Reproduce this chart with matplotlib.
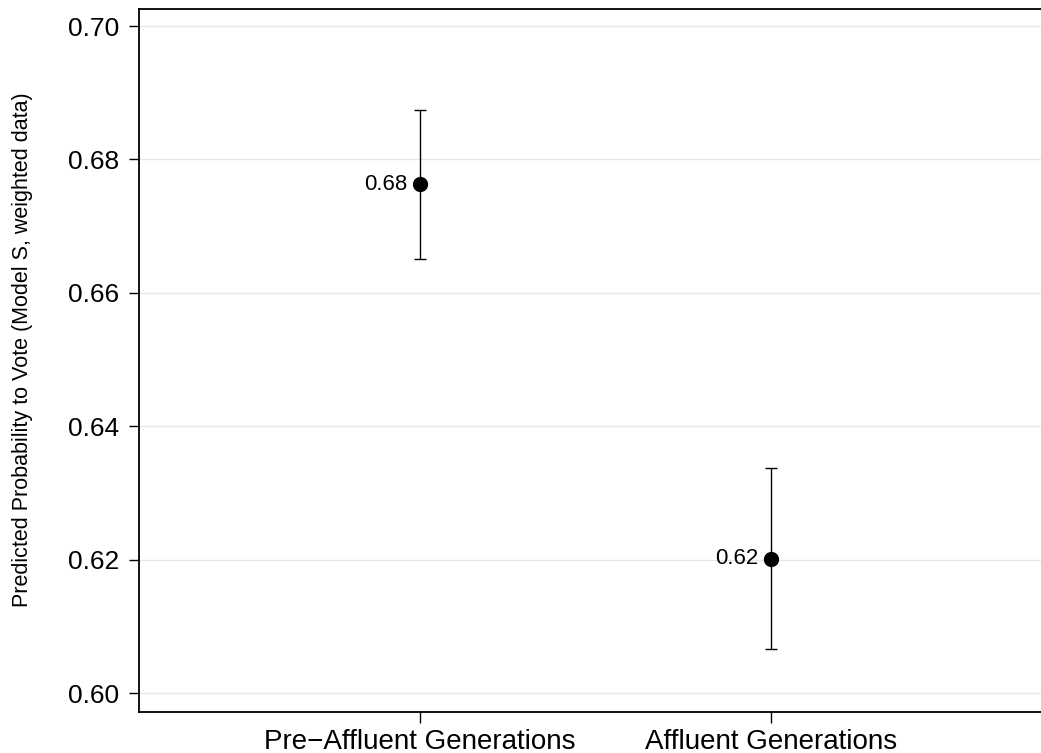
import numpy as np
import matplotlib.pyplot as plt

plt.rcParams['font.family'] = ['Liberation Sans', 'DejaVu Sans']

groups = ["Pre\u2212Affluent Generations", "Affluent Generations"]
estimates = [0.6763, 0.6201]
lower = [0.6651, 0.6066]
upper = [0.6874, 0.6337]
labels = ["0.68", "0.62"]
yticks = [0.60, 0.62, 0.64, 0.66, 0.68, 0.70]

x = np.arange(1, len(groups) + 1)
est = np.array(estimates)
err = np.vstack([est - np.array(lower), np.array(upper) - est])

fig = plt.figure(figsize=(10.41, 7.53), dpi=100)
ax = fig.add_axes([0.1335, 0.0544, 0.8665, 0.9336])

for yt in yticks:
    ax.axhline(yt, color='#e6e6e6', lw=1, zorder=0)

ax.errorbar(x, est, yerr=err, fmt='none', ecolor='black', elinewidth=1,
            capsize=4.5, capthick=1, zorder=2)
ax.plot(x, est, 'o', color='black', markersize=10, zorder=3)
for xi, yi, lab in zip(x, est, labels):
    ax.annotate(lab, (xi, yi), xytext=(-9, 0), textcoords='offset points',
                ha='right', va='center', fontsize=16)

ax.set_xlim(0.2, 2.77)
ax.set_ylim(0.59715, 0.70255)
ax.set_xticks(x)
ax.set_xticklabels(groups, fontsize=20)
ax.set_yticks(yticks)
ax.set_yticklabels([f"{v:.2f}" for v in yticks], fontsize=19)
ax.tick_params(axis='y', length=7.5, width=1, pad=6.5)
ax.tick_params(axis='x', length=8, width=1, pad=4.5)
ax.set_ylabel("Predicted Probability to Vote (Model S, weighted data)", fontsize=15.5)
ax.yaxis.set_label_coords(-0.117, 0.515)
ax.spines['right'].set_visible(False)
for s in ['left', 'bottom', 'top']:
    ax.spines[s].set_linewidth(1.3)

fig.savefig('out.png', dpi=100)
